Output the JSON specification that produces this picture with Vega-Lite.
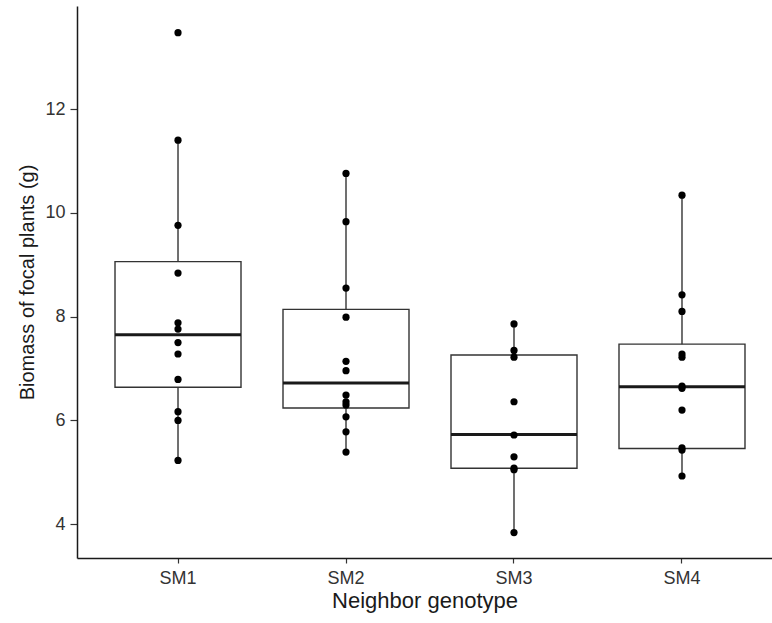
{
  "$schema": "https://vega.github.io/schema/vega-lite/v6.json",
  "width": 695,
  "height": 552,
  "autosize": {"type": "none"},
  "padding": {"left": 77, "top": 6, "right": 0, "bottom": 65},
  "background": "white",
  "config": {
    "view": {"stroke": null},
    "font": "Liberation Sans",
    "axis": {
      "grid": false,
      "domainColor": "#1a1a1a",
      "domainWidth": 1.5,
      "tickColor": "#333333",
      "tickWidth": 1.2,
      "labelColor": "#333333",
      "labelFont": "Liberation Sans",
      "titleFont": "Liberation Sans",
      "titleFontWeight": "normal",
      "titleColor": "#1a1a1a"
    }
  },
  "datasets": {
    "points": [
      {"genotype": "SM1", "biomass": 13.47},
      {"genotype": "SM1", "biomass": 11.40},
      {"genotype": "SM1", "biomass": 9.76},
      {"genotype": "SM1", "biomass": 8.84},
      {"genotype": "SM1", "biomass": 7.88},
      {"genotype": "SM1", "biomass": 7.76},
      {"genotype": "SM1", "biomass": 7.50},
      {"genotype": "SM1", "biomass": 7.28},
      {"genotype": "SM1", "biomass": 6.79},
      {"genotype": "SM1", "biomass": 6.17},
      {"genotype": "SM1", "biomass": 6.00},
      {"genotype": "SM1", "biomass": 5.23},
      {"genotype": "SM2", "biomass": 10.76},
      {"genotype": "SM2", "biomass": 9.83},
      {"genotype": "SM2", "biomass": 8.55},
      {"genotype": "SM2", "biomass": 7.99},
      {"genotype": "SM2", "biomass": 7.14},
      {"genotype": "SM2", "biomass": 6.96},
      {"genotype": "SM2", "biomass": 6.49},
      {"genotype": "SM2", "biomass": 6.36},
      {"genotype": "SM2", "biomass": 6.30},
      {"genotype": "SM2", "biomass": 6.07},
      {"genotype": "SM2", "biomass": 5.78},
      {"genotype": "SM2", "biomass": 5.39},
      {"genotype": "SM3", "biomass": 7.86},
      {"genotype": "SM3", "biomass": 7.35},
      {"genotype": "SM3", "biomass": 7.22},
      {"genotype": "SM3", "biomass": 6.36},
      {"genotype": "SM3", "biomass": 5.72},
      {"genotype": "SM3", "biomass": 5.30},
      {"genotype": "SM3", "biomass": 5.08},
      {"genotype": "SM3", "biomass": 5.05},
      {"genotype": "SM3", "biomass": 3.84},
      {"genotype": "SM4", "biomass": 10.34},
      {"genotype": "SM4", "biomass": 8.42},
      {"genotype": "SM4", "biomass": 8.10},
      {"genotype": "SM4", "biomass": 7.28},
      {"genotype": "SM4", "biomass": 7.22},
      {"genotype": "SM4", "biomass": 6.66},
      {"genotype": "SM4", "biomass": 6.62},
      {"genotype": "SM4", "biomass": 6.20},
      {"genotype": "SM4", "biomass": 5.47},
      {"genotype": "SM4", "biomass": 5.43},
      {"genotype": "SM4", "biomass": 4.93}
    ],
    "summary": [
      {"genotype": "SM1", "lower": 5.23, "q1": 6.64, "median": 7.65, "q3": 9.06, "upper": 11.40},
      {"genotype": "SM2", "lower": 5.39, "q1": 6.24, "median": 6.72, "q3": 8.14, "upper": 10.76},
      {"genotype": "SM3", "lower": 3.84, "q1": 5.08, "median": 5.73, "q3": 7.26, "upper": 7.86},
      {"genotype": "SM4", "lower": 4.93, "q1": 5.46, "median": 6.65, "q3": 7.47, "upper": 10.34}
    ]
  },
  "layer": [
    {
      "data": {"name": "summary"},
      "mark": {"type": "rule", "stroke": "#333333", "strokeWidth": 1.4},
      "encoding": {
        "x": {
          "field": "genotype",
          "type": "nominal",
          "sort": ["SM1", "SM2", "SM3", "SM4"],
          "scale": {"type": "band", "paddingInner": 0, "paddingOuter": 0.0685, "align": 0.739},
          "axis": {
            "title": "Neighbor genotype",
            "labelAngle": 0,
            "tickSize": 5,
            "labelPadding": 6,
            "labelFontSize": 18,
            "titleFontSize": 22,
            "titleBaseline": "alphabetic",
            "titleY": 49
          }
        },
        "y": {
          "field": "lower",
          "type": "quantitative",
          "scale": {"domain": [3.35, 13.985], "nice": false, "zero": false},
          "axis": {
            "title": "Biomass of focal plants (g)",
            "values": [4, 6, 8, 10, 12],
            "tickSize": 7,
            "labelPadding": 5,
            "labelFontSize": 18,
            "titleFontSize": 20,
            "titleBaseline": "alphabetic",
            "titleX": -44
          }
        },
        "y2": {"field": "upper"}
      }
    },
    {
      "data": {"name": "summary"},
      "mark": {"type": "bar", "fill": "white", "stroke": "#333333", "strokeWidth": 1.4, "width": {"band": 0.75}},
      "encoding": {
        "x": {"field": "genotype", "type": "nominal", "sort": ["SM1", "SM2", "SM3", "SM4"]},
        "y": {"field": "q1", "type": "quantitative"},
        "y2": {"field": "q3"}
      }
    },
    {
      "data": {"name": "summary"},
      "mark": {"type": "tick", "color": "#1a1a1a", "thickness": 3, "size": 126, "opacity": 1},
      "encoding": {
        "x": {"field": "genotype", "type": "nominal", "sort": ["SM1", "SM2", "SM3", "SM4"]},
        "y": {"field": "median", "type": "quantitative"}
      }
    },
    {
      "data": {"name": "points"},
      "mark": {"type": "point", "filled": true, "shape": "circle", "size": 52, "color": "black", "opacity": 1},
      "encoding": {
        "x": {"field": "genotype", "type": "nominal", "sort": ["SM1", "SM2", "SM3", "SM4"]},
        "y": {"field": "biomass", "type": "quantitative"}
      }
    }
  ]
}
